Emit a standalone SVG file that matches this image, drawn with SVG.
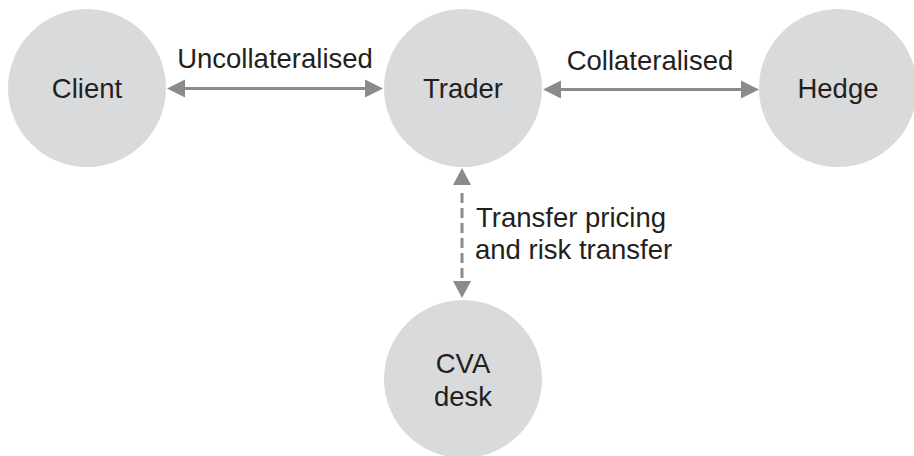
<svg xmlns="http://www.w3.org/2000/svg" width="914" height="456" viewBox="0 0 914 456">
  <style>
    .node { fill: #d9dadb; }
    .label { font-family: "Liberation Sans", Arial, sans-serif; font-size: 27.5px; fill: #231f20; }
    .mid { text-anchor: middle; }
    .link { stroke: #8a8b8d; stroke-width: 3; fill: none; }
    .dash { stroke-dasharray: 10 5; }
    .head { fill: #8a8b8d; }
  </style>
  <rect width="914" height="456" fill="#ffffff"/>

  <g id="client">
    <circle class="node" cx="87" cy="88" r="79"/>
    <text class="label mid" x="87" y="98">Client</text>
  </g>
  <g id="trader">
    <circle class="node" cx="463" cy="88" r="79"/>
    <text class="label mid" x="463" y="98">Trader</text>
  </g>
  <g id="hedge">
    <circle class="node" cx="838" cy="88" r="79"/>
    <text class="label mid" x="838" y="98">Hedge</text>
  </g>
  <g id="cva-desk">
    <circle class="node" cx="463" cy="379" r="79"/>
    <text class="label mid" x="463" y="373">CVA</text>
    <text class="label mid" x="463" y="406">desk</text>
  </g>

  <g id="connectors">
    <!-- Client <-> Trader -->
    <line class="link" x1="184" y1="88.5" x2="366" y2="88.5"/>
    <polygon class="head" points="167,88.5 185,79.5 185,97.5"/>
    <polygon class="head" points="383,88.5 365,79.5 365,97.5"/>
    <text class="label mid" x="275" y="68">Uncollateralised</text>

    <!-- Trader <-> Hedge -->
    <line class="link" x1="560" y1="89.5" x2="742" y2="89.5"/>
    <polygon class="head" points="543,89.5 561,80.5 561,98.5"/>
    <polygon class="head" points="759,89.5 741,80.5 741,98.5"/>
    <text class="label mid" x="650" y="70">Collateralised</text>

    <!-- Trader <-> CVA desk -->
    <line class="link dash" x1="462" y1="193" x2="462" y2="282"/>
    <polygon class="head" points="462,168 453,185 471,185"/>
    <polygon class="head" points="462,298 453,281 471,281"/>
    <text class="label" x="476" y="227">Transfer pricing</text>
    <text class="label" x="475" y="259">and risk transfer</text>
  </g>
</svg>
